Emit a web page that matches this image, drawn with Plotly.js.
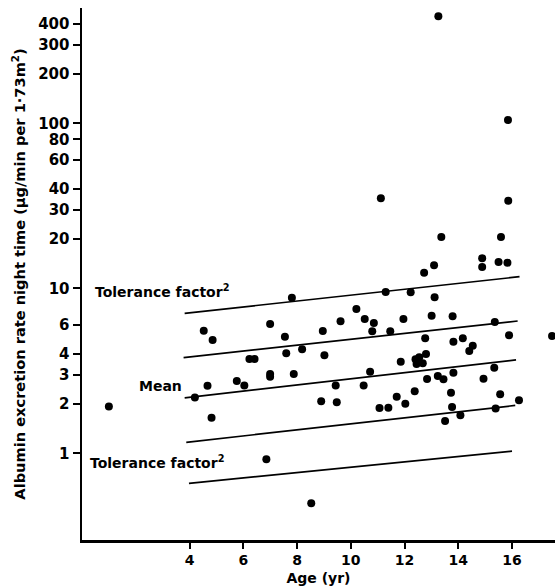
<!DOCTYPE html>
<html><head><meta charset="utf-8">
<script src="https://cdn.plot.ly/plotly-3.0.1.min.js"></script>
<style>html,body{margin:0;padding:0;background:#fff}#chart{width:555px;height:587px}</style>
</head><body><div id="chart"></div>
<script>
// Individual observations: age (yr) and albumin excretion rate (µg/min per 1.73m²)
const ages = [1.00,4.20,4.53,4.86,4.67,4.82,5.76,6.04,6.23,6.42,6.86,7.00,7.00,7.00,7.55,7.60,7.81,7.88,8.19,8.53,8.90,8.96,9.02,9.44,9.48,9.62,10.21,10.48,10.52,10.72,10.80,10.86,11.07,11.12,11.30,11.40,11.47,11.71,11.86,11.96,12.03,12.23,12.38,12.41,12.45,12.55,12.68,12.73,12.77,12.80,12.84,13.01,13.10,13.12,13.24,13.26,13.37,13.45,13.51,13.73,13.77,13.79,13.82,13.82,14.08,14.17,14.41,14.54,14.89,14.89,14.94,15.34,15.36,15.39,15.50,15.56,15.59,15.83,15.85,15.86,15.89,16.26,17.49];
const albumin = [1.92,2.18,5.53,4.86,2.57,1.64,2.74,2.58,3.73,3.73,0.92,6.08,3.02,2.91,5.09,4.04,8.77,3.02,4.27,0.498,2.07,5.51,3.93,2.58,2.04,6.31,7.49,2.58,6.51,3.12,5.49,6.16,1.88,35.1,9.50,1.89,5.49,2.20,3.59,6.51,2.00,9.46,2.38,3.71,3.48,3.82,3.51,12.43,4.98,4.00,2.82,6.82,13.78,8.82,2.94,445,20.5,2.81,1.57,2.33,1.91,6.77,4.75,3.08,1.70,4.98,4.17,4.49,15.2,13.46,2.83,3.30,6.25,1.87,14.43,2.28,20.5,14.3,104.7,33.9,5.19,2.10,5.14];

// Regression line and bands (end points)
const tolUpperAges = [3.82, 16.28], tolUpperVals = [7.05, 11.76];
const sdUpperAges  = [3.78, 16.21], sdUpperVals  = [3.80, 6.34];
const meanAges     = [3.82, 16.15], meanVals     = [2.17, 3.68];
const sdLowerAges  = [3.88, 16.12], sdLowerVals  = [1.166, 1.95];
const tolLowerAges = [3.98, 16.00], tolLowerVals = [0.658, 1.03];

const xTickVals = [4,6,8,10,12,14,16];
const yTickVals = [1,2,3,4,6,10,20,30,40,60,80,100,200,300,400];
const yTickText = ['1','2','3','4','6','10','20','30','40','60','80','100','200','300','400'];

const FONT = 'DejaVu Sans, Liberation Sans, Arial, sans-serif';
const lineStyle = {color:'#000', width:1.7};
function band(x, y){ return {x:x, y:y, mode:'lines', line:lineStyle, hoverinfo:'skip', type:'scatter'}; }

const traces = [
  band(tolUpperAges, tolUpperVals),
  band(sdUpperAges, sdUpperVals),
  band(meanAges, meanVals),
  band(sdLowerAges, sdLowerVals),
  band(tolLowerAges, tolLowerVals),
  {x:ages, y:albumin, mode:'markers', type:'scatter', cliponaxis:false,
   marker:{color:'#000', size:8, line:{width:0}}}
];

const f = (size) => ({family:FONT, size:size, color:'#000', weight:'bold'});

const axisCommon = {
  showgrid:false, zeroline:false, showline:true, linecolor:'#000', linewidth:2.5,
  ticks:'outside', tickwidth:2, tickcolor:'#000'
};

const layout = {
  width:555, height:587,
  margin:{l:82, r:0, t:8, b:47},
  paper_bgcolor:'#fff', plot_bgcolor:'#fff',
  showlegend:false,
  font:{family:FONT, color:'#000'},
  xaxis:Object.assign({}, axisCommon, {
    range:[0, 17.6], tickmode:'array', tickvals:xTickVals, ticklen:6,
    tickfont:f(14),
    title:{text:'Age (yr)', font:f(14), standoff:6}
  }),
  yaxis:Object.assign({}, axisCommon, {
    type:'log', range:[-0.5255, 2.699], tickmode:'array', tickvals:yTickVals, ticktext:yTickText, ticklen:7,
    tickfont:f(15),
    title:{text:'Albumin excretion rate night time (μg/min per 1·73m<sup>2</sup>)', font:f(14.6), standoff:9}
  }),
  annotations:[
    {xref:'paper', yref:'paper', x:0.0239, y:0.468, xanchor:'left', yanchor:'middle', showarrow:false,
     text:'Tolerance factor<sup>2</sup>', font:f(14)},
    {xref:'paper', yref:'paper', x:0.117, y:0.290, xanchor:'left', yanchor:'middle', showarrow:false,
     text:'Mean', font:f(14)},
    {xref:'paper', yref:'paper', x:0.0133, y:0.147, xanchor:'left', yanchor:'middle', showarrow:false,
     text:'Tolerance factor<sup>2</sup>', font:f(14)}
  ]
};

Plotly.newPlot('chart', traces, layout, {displayModeBar:false, staticPlot:true});
</script>
</body></html>
